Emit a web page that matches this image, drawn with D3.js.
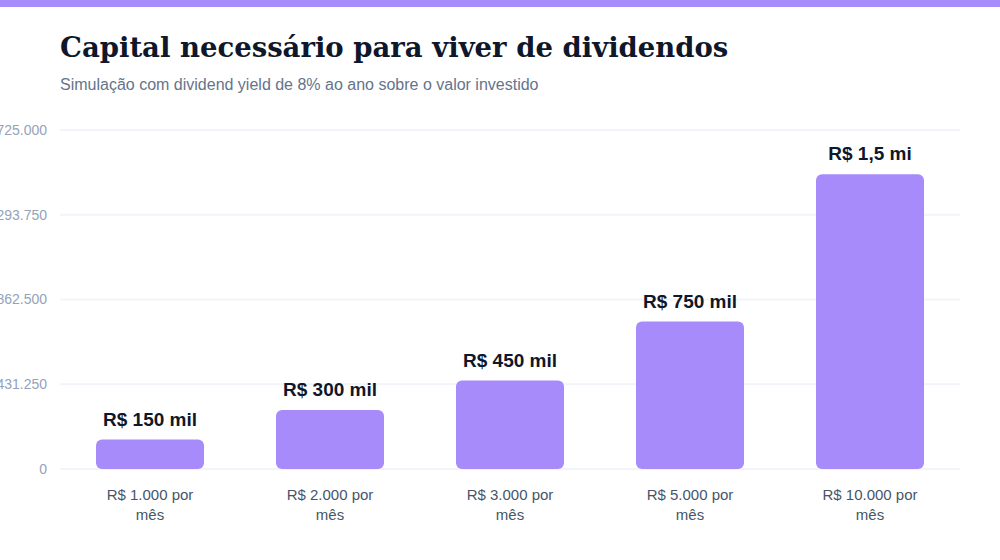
<!DOCTYPE html>
<html>
<head>
<meta charset="utf-8">
<script src="https://cdn.jsdelivr.net/npm/d3@7"></script>
<style>
  body { margin: 0; background: #fff; overflow: hidden; }
  svg { display: block; }
</style>
</head>
<body>
<div id="chart"></div>
<script>
// data
const categories = ["R$ 1.000 por mês", "R$ 2.000 por mês", "R$ 3.000 por mês", "R$ 5.000 por mês", "R$ 10.000 por mês"];
const capital = [150000, 300000, 450000, 750000, 1500000];
const valueLabels = ["R$ 150 mil", "R$ 300 mil", "R$ 450 mil", "R$ 750 mil", "R$ 1,5 mi"];
const yTicks = [0, 431250, 862500, 1293750, 1725000];

const W = 1000, H = 560;
const margin = { top: 130, right: 40, bottom: 91, left: 60 };
const width = W - margin.left - margin.right;
const height = H - margin.top - margin.bottom;

const svg = d3.select("#chart").append("svg")
    .attr("width", W)
    .attr("height", H);

// top accent band
svg.append("rect")
    .attr("x", 0).attr("y", 0)
    .attr("width", W).attr("height", 7)
    .attr("fill", "#a78bfa");

svg.append("text")
    .attr("x", 60).attr("y", 57)
    .style("font-family", "Georgia, 'DejaVu Serif', serif")
    .style("font-weight", "bold")
    .style("font-size", "27.5px")
    .attr("fill", "#0f172a")
    .text("Capital necessário para viver de dividendos");

svg.append("text")
    .attr("x", 60).attr("y", 90)
    .style("font-family", "'Liberation Sans', Arial, sans-serif")
    .style("font-size", "16px")
    .attr("fill", "#64748b")
    .text("Simulação com dividend yield de 8% ao ano sobre o valor investido");

const g = svg.append("g").attr("transform", `translate(${margin.left},${margin.top})`);

const x = d3.scaleBand()
    .domain(categories)
    .range([0, width])
    .paddingInner(0.4)
    .paddingOuter(0.2);

const y = d3.scaleLinear()
    .domain([0, 1725000])
    .range([height, 0]);

const fmt = d3.formatLocale({ decimal: ",", thousands: ".", grouping: [3], currency: ["R$ ", ""] }).format(",.0f");

// grid lines
g.selectAll("line.grid")
    .data(yTicks)
    .enter().append("line")
    .attr("class", "grid")
    .attr("x1", 0).attr("x2", width)
    .attr("y1", d => y(d)).attr("y2", d => y(d))
    .attr("stroke", "#f1f5f9")
    .attr("stroke-width", 2);

// y axis labels (the widest ones run past the left edge, as in the original)
const yAxis = g.append("g")
    .call(d3.axisLeft(y).tickValues(yTicks).tickFormat(fmt).tickSize(0).tickPadding(13));
yAxis.select(".domain").remove();
yAxis.selectAll("text")
    .style("font-family", "'Liberation Sans', Arial, sans-serif")
    .style("font-size", "14px")
    .attr("fill", "#94a3b8");

// bars
g.selectAll("rect.bar")
    .data(capital)
    .enter().append("rect")
    .attr("class", "bar")
    .attr("x", (d, i) => x(categories[i]))
    .attr("y", d => y(d))
    .attr("width", x.bandwidth())
    .attr("height", d => height - y(d))
    .attr("rx", 6)
    .attr("fill", "#a78bfa");

// value labels
g.selectAll("text.value")
    .data(capital)
    .enter().append("text")
    .attr("class", "value")
    .attr("x", (d, i) => x(categories[i]) + x.bandwidth() / 2)
    .attr("y", d => y(d) - 14)
    .attr("text-anchor", "middle")
    .style("font-family", "'Liberation Sans', Arial, sans-serif")
    .style("font-weight", "bold")
    .style("font-size", "19px")
    .attr("fill", "#0f172a")
    .text((d, i) => valueLabels[i]);

// x labels, wrapped on two lines
const xl = g.selectAll("text.xlab")
    .data(categories)
    .enter().append("text")
    .attr("class", "xlab")
    .attr("text-anchor", "middle")
    .style("font-family", "'Liberation Sans', Arial, sans-serif")
    .style("font-size", "15px")
    .attr("fill", "#475569");

xl.each(function (d) {
    const cx = x(d) + x.bandwidth() / 2;
    const parts = [d.replace(/ mês$/, ""), "mês"];
    d3.select(this).selectAll("tspan")
        .data(parts)
        .enter().append("tspan")
        .attr("x", cx)
        .attr("y", (p, i) => height + 31 + i * 20)
        .text(p => p);
});
</script>
</body>
</html>
